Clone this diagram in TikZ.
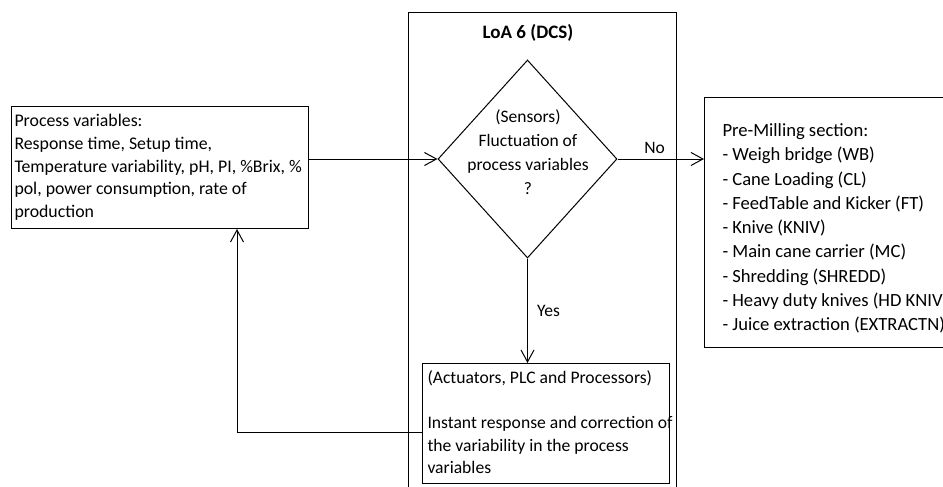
\documentclass[tikz,border=0pt]{standalone}
\usepackage{fontspec}
\setmainfont{Carlito}
\usetikzlibrary{arrows.meta,shapes.geometric}
\begin{document}
\begin{tikzpicture}[x=1pt,y=-1pt,
  line width=1pt,
  box/.style={draw, line width=1pt, inner sep=0pt, anchor=north west},
  txt/.style={inner sep=0pt, anchor=north west, align=left, font=\fontsize{17.8}{22.6}\selectfont},
  flow/.style={-{Straight Barb[length=12pt,width=13pt,line width=1pt]}, line width=1pt},
  lbl/.style={inner sep=0pt, font=\fontsize{17.5}{20}\selectfont}
]
\clip (0,0) rectangle (943,487);
\fill[white] (0,0) rectangle (943,487);

% DCS frame (open towards the bottom)
\node[box, minimum width=268pt, minimum height=520pt] (dcs) at (408,12) {};
\node[lbl, font=\bfseries\fontsize{19}{22}\selectfont] (title) at (528,33) {LoA 6 (DCS)};

% decision
\node[draw, diamond, line width=1pt, inner sep=0pt, minimum width=179pt, minimum height=198pt] (dia) at (527.5,159) {};
\node[lbl, align=center, font=\fontsize{17.5}{24}\selectfont] (diatext) at (528,152) {(Sensors)\\Fluctuation of\\process variables\\?};

% process variables
\node[box, minimum width=297pt, minimum height=122pt] (pv) at (11,106) {};
\node[txt] (pvtext) at (14,114) {Process variables:\\Response time, Setup time,\\Temperature variability, pH, PI, \%Brix, \%\\pol, power consumption, rate of\\production};

% pre-milling section
\node[box, minimum width=260pt, minimum height=250pt] (pm) at (704,97) {};
\node[txt, font=\fontsize{18.6}{24.3}\selectfont] (pmtext) at (722,123) {Pre-Milling section:\\- Weigh bridge (WB)\\- Cane Loading (CL)\\- FeedTable and Kicker (FT)\\- Knive (KNIV)\\- Main cane carrier (MC)\\- Shredding (SHREDD)\\- Heavy duty knives (HD KNIV)\\- Juice extraction (EXTRACTN)};

% actuators
\node[box, minimum width=247pt, minimum height=120pt] (act) at (422,363) {};
\node[txt, font=\fontsize{17.6}{22.6}\selectfont] (acttext) at (427,370) {(Actuators, PLC and Processors)\\[22.6pt]Instant response and correction of\\the variability in the process\\variables};

% connectors
\draw[flow] (pv.east |- dia.west) -- (dia.west);
\draw[flow] (dia.east) -- (pm.west |- dia.east) node[lbl, pos=0.43, above=5pt] (no) {No};
\draw[flow] (dia.south) -- (act.north -| dia.south) node[lbl, pos=0.5, right=9pt] (yes) {Yes};
\coordinate (fb) at (237,432);
\draw[flow] (act.west |- fb) -- (fb) -- (fb |- pv.south);
\end{tikzpicture}
\end{document}
